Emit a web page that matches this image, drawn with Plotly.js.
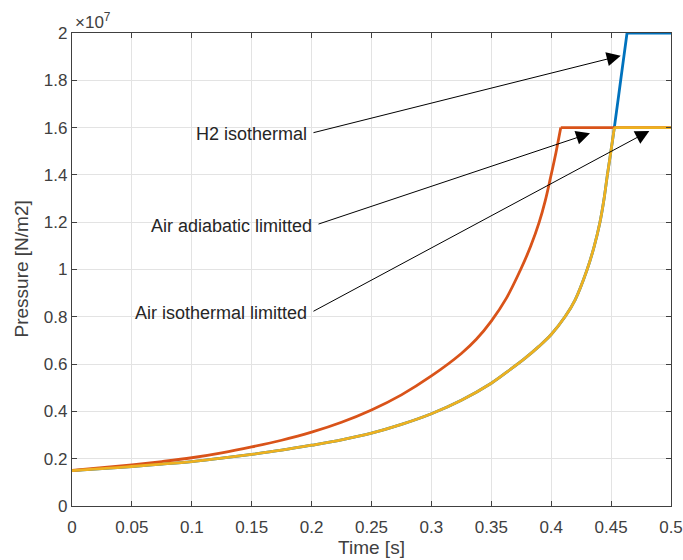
<!DOCTYPE html>
<html>
<head>
<meta charset="utf-8">
<script src="https://cdn.plot.ly/plotly-3.0.1.min.js"></script>
<style>html,body{margin:0;padding:0;background:#fff;}#chart{width:683px;height:560px;}</style>
</head>
<body>
<div id="chart"></div>
<script>
// Time [s] and pressure [N/m2]
const tIso = [0, 0.025, 0.05, 0.075, 0.1, 0.125, 0.15, 0.175, 0.2, 0.225, 0.25, 0.275, 0.3, 0.325, 0.35, 0.365, 0.378, 0.39, 0.4, 0.4115, 0.42, 0.43, 0.436, 0.4407, 0.444, 0.4469, 0.450, 0.4527, 0.5];
const pAirIso = [1.50e6, 1.58e6, 1.67e6, 1.77e6, 1.88e6, 2.02e6, 2.18e6, 2.36e6, 2.57e6, 2.80e6, 3.08e6, 3.45e6, 3.90e6, 4.47e6, 5.19e6, 5.74e6, 6.24e6, 6.76e6, 7.25e6, 8.00e6, 8.72e6, 10.0e6, 11.0e6, 12.0e6, 12.95e6, 14.0e6, 15.05e6, 16.0e6, 16.0e6];

const tH2 = [0, 0.025, 0.05, 0.075, 0.1, 0.125, 0.15, 0.175, 0.2, 0.225, 0.25, 0.275, 0.3, 0.325, 0.35, 0.365, 0.378, 0.39, 0.4, 0.4115, 0.42, 0.43, 0.436, 0.4407, 0.444, 0.4469, 0.450, 0.4527, 0.458, 0.4633, 0.5];
const pH2Iso = [1.50e6, 1.58e6, 1.67e6, 1.77e6, 1.88e6, 2.02e6, 2.18e6, 2.36e6, 2.57e6, 2.80e6, 3.08e6, 3.45e6, 3.90e6, 4.47e6, 5.19e6, 5.74e6, 6.24e6, 6.76e6, 7.25e6, 8.00e6, 8.72e6, 10.0e6, 11.0e6, 12.0e6, 12.95e6, 14.0e6, 15.05e6, 16.0e6, 18.0e6, 20.0e6, 20.0e6];

const tAdi = [0, 0.025, 0.05, 0.075, 0.1, 0.125, 0.15, 0.175, 0.2, 0.225, 0.25, 0.275, 0.3, 0.325, 0.3375, 0.35, 0.3625, 0.3745, 0.383, 0.390, 0.395, 0.3995, 0.404, 0.408, 0.5];
const pAirAdi = [1.50e6, 1.62e6, 1.74e6, 1.88e6, 2.04e6, 2.25e6, 2.50e6, 2.78e6, 3.12e6, 3.54e6, 4.06e6, 4.70e6, 5.50e6, 6.45e6, 7.05e6, 7.82e6, 8.78e6, 10.0e6, 11.0e6, 12.0e6, 12.9e6, 13.9e6, 14.95e6, 16.0e6, 16.0e6];

const yTickVals = [0, 2e6, 4e6, 6e6, 8e6, 10e6, 12e6, 14e6, 16e6, 18e6, 20e6];
const yTickText = ['0', '0.2', '0.4', '0.6', '0.8', '1', '1.2', '1.4', '1.6', '1.8', '2'];

// Annotation labels and arrow endpoints [t, p]
const labels = ['H2 isothermal', 'Air adiabatic limitted', 'Air isothermal limitted'];
const arrowTail = [[0.2003, 15.77e6], [0.2045, 11.90e6], [0.2003, 8.20e6]];
const arrowTip = [[0.4580, 19.04e6], [0.4324, 15.76e6], [0.4819, 15.86e6]];

const colors = {blue: '#0072BD', red: '#D95319', yellow: '#EDB120'};
const FONT = 'Liberation Sans, Arial, Helvetica, sans-serif';
const LW = 2.8;

// each series: smooth rising part + straight flat (limited) part
function seriesTraces(t, p, color) {
  const n = t.length;
  return [
    {x: t.slice(0, n - 1), y: p.slice(0, n - 1), mode: 'lines', line: {color: color, width: LW, shape: 'spline', smoothing: 1}, hoverinfo: 'skip'},
    {x: t.slice(n - 2), y: p.slice(n - 2), mode: 'lines', line: {color: color, width: LW}, hoverinfo: 'skip'}
  ];
}

const traces = [].concat(
  seriesTraces(tH2, pH2Iso, colors.blue),
  seriesTraces(tAdi, pAirAdi, colors.red),
  seriesTraces(tIso, pAirIso, colors.yellow)
);

const annotations = [];
labels.forEach((lab, i) => {
  annotations.push({
    x: arrowTip[i][0], y: arrowTip[i][1], xref: 'x', yref: 'y',
    ax: arrowTail[i][0], ay: arrowTail[i][1], axref: 'x', ayref: 'y',
    text: '', showarrow: true, arrowhead: 2, arrowsize: 2.8, arrowwidth: 1,
    arrowcolor: '#000', standoff: 0, startstandoff: 0
  });
  annotations.push({
    x: arrowTail[i][0], y: arrowTail[i][1], xref: 'x', yref: 'y',
    text: lab, showarrow: false, xanchor: 'right', yanchor: 'middle', xshift: -3, yshift: -1,
    font: {family: FONT, size: 18, color: '#262626'}
  });
});
annotations.push({
  x: 0, y: 1, xref: 'paper', yref: 'paper', xanchor: 'left', yanchor: 'bottom',
  text: '\u00d710<sup>7</sup>', showarrow: false, yshift: -1, xshift: 1,
  font: {family: FONT, size: 17, color: '#404040'}
});
// y axis title
annotations.push({
  x: 0, y: 0.5, xref: 'paper', yref: 'paper', xanchor: 'center', yanchor: 'middle',
  xshift: -51, textangle: -90, showarrow: false,
  text: 'Pressure [N/m2]', font: {family: FONT, size: 19, color: '#404040'}
});

const axisCommon = {
  showline: true, linecolor: '#404040', linewidth: 1.2, mirror: 'ticks',
  ticks: 'inside', ticklen: 5, tickwidth: 1, tickcolor: '#404040',
  showgrid: true, gridcolor: '#e3e3e3', gridwidth: 1, zeroline: false,
  tickfont: {family: FONT, size: 17, color: '#404040'}
};

const layout = {
  width: 683, height: 560,
  margin: {l: 72, r: 12, t: 33, b: 54},
  paper_bgcolor: '#fff', plot_bgcolor: '#fff',
  showlegend: false,
  font: {family: FONT, color: '#404040'},
  xaxis: Object.assign({}, axisCommon, {
    range: [0, 0.5], tick0: 0, dtick: 0.05, ticklabelstandoff: 5,
    title: {text: 'Time [s]', font: {family: FONT, size: 19, color: '#404040'}, standoff: 4}
  }),
  yaxis: Object.assign({}, axisCommon, {
    range: [0, 2e7], tickmode: 'array', tickvals: yTickVals, ticktext: yTickText
  }),
  annotations: annotations
};

Plotly.newPlot('chart', traces, layout, {displayModeBar: false, staticPlot: true});
</script>
</body>
</html>
